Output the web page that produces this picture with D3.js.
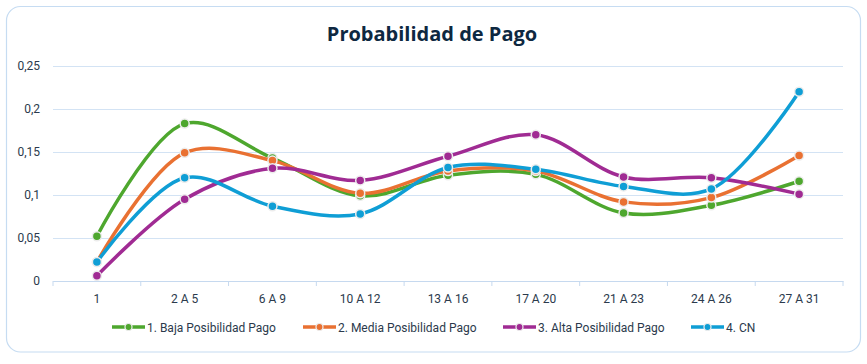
<!DOCTYPE html>
<html>
<head>
<meta charset="utf-8">
<script src="https://cdn.jsdelivr.net/npm/d3@7"></script>
<style>
  body { margin: 0; background: #fff; }
  svg { display: block; }
</style>
</head>
<body>
<svg id="chart" width="867" height="364"></svg>
<script>
// data
var categories = ['1', '2 A 5', '6 A 9', '10 A 12', '13 A 16', '17 A 20', '21 A 23', '24 A 26', '27 A 31'];
var baja  = [0.052, 0.183, 0.143, 0.099, 0.123, 0.124, 0.079, 0.088, 0.116];
var media = [0.022, 0.149, 0.140, 0.102, 0.128, 0.128, 0.092, 0.097, 0.146];
var alta  = [0.006, 0.095, 0.131, 0.117, 0.145, 0.170, 0.121, 0.120, 0.101];
var cn    = [0.022, 0.120, 0.087, 0.078, 0.132, 0.130, 0.110, 0.107, 0.220];
var yTicks = [0, 0.05, 0.1, 0.15, 0.2, 0.25];
var seriesNames = ['1. Baja Posibilidad Pago', '2. Media Posibilidad Pago', '3. Alta Posibilidad Pago', '4. CN'];
var seriesColors = ['#4ea72e', '#e97132', '#a02b93', '#0f9ed5'];

var series = [baja, media, alta, cn].map(function (vals, i) {
  return { name: seriesNames[i], color: seriesColors[i], values: vals };
});

var svg = d3.select('#chart');
var margin = { top: 66, left: 53, right: 24, bottom: 83 };
var width = 867 - margin.left - margin.right,
    height = 364 - margin.top - margin.bottom;

// chart frame
svg.append('rect')
   .attr('x', 6.5).attr('y', 6.5)
   .attr('width', 854).attr('height', 345.5)
   .attr('rx', 14).attr('ry', 14)
   .attr('fill', '#fff')
   .attr('stroke', '#c6dcf2')
   .attr('stroke-width', 1.2);

svg.append('text')
   .attr('x', 432).attr('y', 41)
   .attr('text-anchor', 'middle')
   .attr('font-family', '"Open Sans", sans-serif')
   .attr('font-weight', 'bold')
   .attr('font-size', 20)
   .attr('fill', '#0e2841')
   .text('Probabilidad de Pago');

var g = svg.append('g')
   .attr('transform', 'translate(' + margin.left + ',' + margin.top + ')');

var x = d3.scaleBand().domain(categories).range([0, width]);
var y = d3.scaleLinear().domain([0, 0.25]).range([height, 0]);
var fmt = function (d) { return String(d).replace('.', ','); };

// gridlines + y labels
var yAxis = g.append('g')
   .call(d3.axisLeft(y).tickValues(yTicks).tickSize(-width).tickFormat(fmt));
yAxis.select('.domain').remove();
yAxis.selectAll('.tick line').attr('stroke', '#d3e3f4').attr('stroke-width', 1);
yAxis.selectAll('.tick text')
   .attr('x', -13)
   .attr('font-family', 'Roboto, "Open Sans", sans-serif')
   .attr('font-size', 12)
   .attr('fill', '#2b3a4c');

// x axis
var xAxis = g.append('g')
   .attr('transform', 'translate(0,' + height + ')')
   .call(d3.axisBottom(x).tickSize(0).tickPadding(13));
xAxis.select('.domain').attr('stroke', '#c6d9ef');
xAxis.selectAll('.tick text')
   .attr('font-family', 'Roboto, "Open Sans", sans-serif')
   .attr('font-size', 12)
   .attr('fill', '#2b3a4c');
// small tick marks between categories
xAxis.selectAll('.sep')
   .data(d3.range(categories.length + 1))
   .enter().append('line')
   .attr('x1', function (i) { return i * x.bandwidth(); })
   .attr('x2', function (i) { return i * x.bandwidth(); })
   .attr('y1', 0).attr('y2', 5)
   .attr('stroke', '#c6d9ef');

var line = d3.line()
   .x(function (d, i) { return x(categories[i]) + x.bandwidth() / 2; })
   .y(function (d) { return y(d); })
   .curve(d3.curveCatmullRom.alpha(0.5));

var sg = g.selectAll('.series').data(series).enter().append('g');
sg.append('path')
   .attr('d', function (s) { return line(s.values); })
   .attr('fill', 'none')
   .attr('stroke', function (s) { return s.color; })
   .attr('stroke-width', 3.5)
   .attr('stroke-linecap', 'round');
sg.selectAll('circle')
   .data(function (s) { return s.values.map(function (v) { return { v: v, c: s.color }; }); })
   .enter().append('circle')
   .attr('cx', function (d, i) { return x(categories[i]) + x.bandwidth() / 2; })
   .attr('cy', function (d) { return y(d.v); })
   .attr('r', 4.5)
   .attr('fill', function (d) { return d.c; })
   .attr('stroke', '#ececec')
   .attr('stroke-width', 1.5);

// legend
var legendX = [112, 303, 503, 691];
var leg = svg.selectAll('.leg').data(series).enter().append('g')
   .attr('transform', function (s, i) { return 'translate(' + legendX[i] + ',327)'; });
leg.append('line')
   .attr('x1', 0).attr('x2', 33).attr('y1', 0).attr('y2', 0)
   .attr('stroke', function (s) { return s.color; })
   .attr('stroke-width', 3.5);
leg.append('circle')
   .attr('cx', 16.5).attr('cy', 0).attr('r', 3.5)
   .attr('fill', function (s) { return s.color; })
   .attr('stroke', '#ececec').attr('stroke-width', 1.2);
leg.append('text')
   .attr('x', 35).attr('y', 4.5)
   .attr('font-family', 'Roboto, sans-serif')
   .attr('font-size', 12)
   .attr('fill', '#2b3a4c')
   .text(function (s) { return s.name; });
</script>
</body>
</html>
